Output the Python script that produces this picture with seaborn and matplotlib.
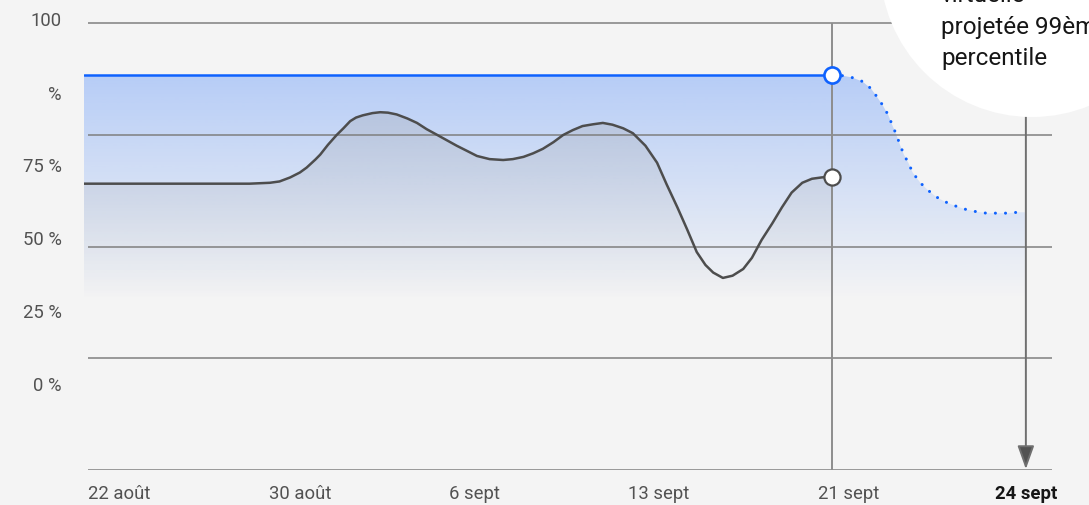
import numpy as np
import matplotlib
matplotlib.use("Agg")
import matplotlib.pyplot as plt
from matplotlib.colors import to_rgb
from matplotlib.patches import Circle
import seaborn as sns

# axe horizontal : position relative 0-100 (les dates ne sont pas espacées régulièrement)
tick_pos = [0.4, 22.3, 40.3, 59.4, 79.0, 97.3]
tick_labels = ["22 août", "30 août", "6 sept", "13 sept", "21 sept", "24 sept"]

ytick_pos = [100.9, 84.5, 68.3, 51.9, 35.7, 19.3]
ytick_labels = ["100", "%", "75 %", "50 %", "25 %", "0 %"]
grid_vals = [0, 25, 50, 75, 100]

# utilisation réelle (courbe grise)
usage_x = [0.0, 17.1, 19.2, 20.2, 21.3, 22.3, 23.0, 23.9, 24.4, 25.2, 26.1, 26.8,
           27.5, 28.1, 28.8, 29.8, 30.6, 31.4, 32.3, 33.4, 34.4, 35.4, 36.5, 37.5,
           38.5, 39.6, 40.6, 41.9, 43.3, 44.3, 45.4, 46.4, 47.4, 48.5, 49.5, 50.5,
           51.5, 52.6, 53.6, 54.6, 55.7, 56.7, 58.0, 59.2, 60.2, 61.3, 62.3, 63.3,
           64.2, 65.0, 66.0, 67.0, 68.1, 69.0, 70.0, 71.1, 72.1, 73.1, 74.2, 75.2,
           76.2, 77.3]
usage_y = [64.1, 64.1, 64.3, 64.6, 65.5, 66.6, 67.7, 69.5, 70.6, 72.8, 75.0, 76.5,
           78.1, 78.9, 79.4, 79.9, 80.1, 80.0, 79.6, 78.7, 77.7, 76.3, 75.0, 73.8,
           72.6, 71.4, 70.3, 69.6, 69.4, 69.6, 70.1, 70.9, 71.9, 73.4, 75.0, 76.1,
           77.0, 77.4, 77.7, 77.3, 76.5, 75.4, 72.6, 68.8, 63.9, 58.8, 53.9, 48.8,
           45.9, 44.2, 43.0, 43.5, 45.0, 47.5, 51.5, 55.2, 58.8, 62.1, 64.3, 65.2,
           65.5, 65.7]

# capacité virtuelle (ligne bleue) puis projection 99e percentile (pointillés)
cap_x = [0.0, 77.3]
cap_y = [88.4, 88.4]
proj_x = [77.3, 78.3, 79.3, 80.4, 81.3, 81.9, 82.5, 83.1, 83.5, 83.9, 84.3, 84.7,
          85.2, 85.6, 86.4, 87.1, 88.0, 88.9, 89.9, 91.0, 92.0, 93.2, 94.3, 95.4, 96.5]
proj_y = [88.4, 88.3, 87.9, 87.0, 85.4, 83.6, 81.7, 79.4, 77.2, 75.2, 72.8, 70.6,
          68.6, 66.6, 64.3, 62.8, 61.2, 60.1, 59.2, 58.4, 57.9, 57.5, 57.5, 57.5, 57.7]
fill_end_x = 97.2

today_x = 77.3
target_x = 97.3

BG = "#f4f4f4"
BLUE = "#0f62fe"
GRAY = "#4d4d4d"

sns.set_theme(style="white", rc={"axes.facecolor": BG, "figure.facecolor": BG})
plt.rcParams["font.family"] = ["Roboto", "DejaVu Sans"]

fig = plt.figure(figsize=(10.89, 5.05), dpi=100)
ax = fig.add_axes([84 / 1089, 35 / 505, 968 / 1089, 450.7 / 505])


def gradient_fill(ax, x, y, color, a_top, v_top, v_bot, z):
    x = np.asarray(x)
    poly = ax.fill_between(x, y, 0, facecolor="none", edgecolor="none")
    path = poly.get_paths()[0]
    grad = np.zeros((256, 1, 4))
    grad[..., :3] = to_rgb(color)
    grad[..., 3] = np.linspace(a_top, 0, 256)[:, None]
    im = ax.imshow(grad, extent=[x.min(), x.max(), v_bot, v_top],
                   aspect="auto", origin="upper", zorder=z, interpolation="bilinear")
    im.set_clip_path(path, transform=ax.transData)


blue_x = cap_x[:1] + proj_x + [fill_end_x]
blue_y = cap_y[:1] + proj_y + [proj_y[-1]]
gradient_fill(ax, blue_x, blue_y, BLUE, 0.27, 88.4, 38, 1)
gradient_fill(ax, usage_x, usage_y, "#9a9a9a", 0.3, 88.4, 38, 1.1)

ax.hlines(grid_vals, 0.4, 100, color="#7f7f7f", lw=1.1, zorder=2)
ax.vlines(today_x, 0, 100, color="#8d8d8d", lw=1.4, zorder=2)
ax.annotate("", xy=(target_x, 0.2), xytext=(target_x, 100),
            arrowprops=dict(arrowstyle="-|>,head_length=1.2,head_width=0.43",
                            color="#6f6f6f", lw=1.4, shrinkA=0, shrinkB=0,
                            fc="#525252", ec="#6f6f6f"), zorder=2)

sns.lineplot(x=cap_x, y=cap_y, ax=ax, color=BLUE, lw=1.8, zorder=3)
sns.lineplot(x=proj_x, y=proj_y, ax=ax, color=BLUE, lw=2.2, zorder=3,
             linestyle=(0, (0.01, 3.3)), dash_capstyle="round")
sns.lineplot(x=usage_x, y=usage_y, ax=ax, color=GRAY, lw=1.8, zorder=3)

ax.scatter([today_x], [cap_y[-1]], s=135, facecolor="white", edgecolor=BLUE,
           linewidth=1.9, zorder=4, clip_on=False)
ax.scatter([today_x], [usage_y[-1]], s=135, facecolor="white", edgecolor=GRAY,
           linewidth=1.6, zorder=4, clip_on=False)

ax.set_xlim(0, 100)
ax.set_ylim(0, 100)
for s in ax.spines.values():
    s.set_visible(False)
ax.grid(False)

ax.set_xticks(tick_pos, tick_labels)
ax.set_yticks(ytick_pos, ytick_labels)
ax.tick_params(axis="both", length=0, labelsize=13.3, labelcolor="#525252")
ax.tick_params(axis="y", pad=16)
ax.tick_params(axis="x", pad=11)
xl = ax.get_xticklabels()
xl[0].set_ha("left")
xl[-1].set_fontweight("bold")
xl[-1].set_color("#161616")

# bulle d'annotation
bubble = Circle((10.32, 5.40), 1.52, transform=fig.dpi_scale_trans,
                facecolor="white", edgecolor="none", zorder=5)
fig.add_artist(bubble)
for txt, yb in [("virtuelle", 2), ("projetée 99ème", 33.5), ("percentile", 65.5)]:
    fig.text(941 / 1089, 1 - yb / 505, txt, fontsize=17.5, color="#161616",
             va="baseline", ha="left", zorder=6)

fig.savefig("out.png", dpi=100, facecolor=BG)
